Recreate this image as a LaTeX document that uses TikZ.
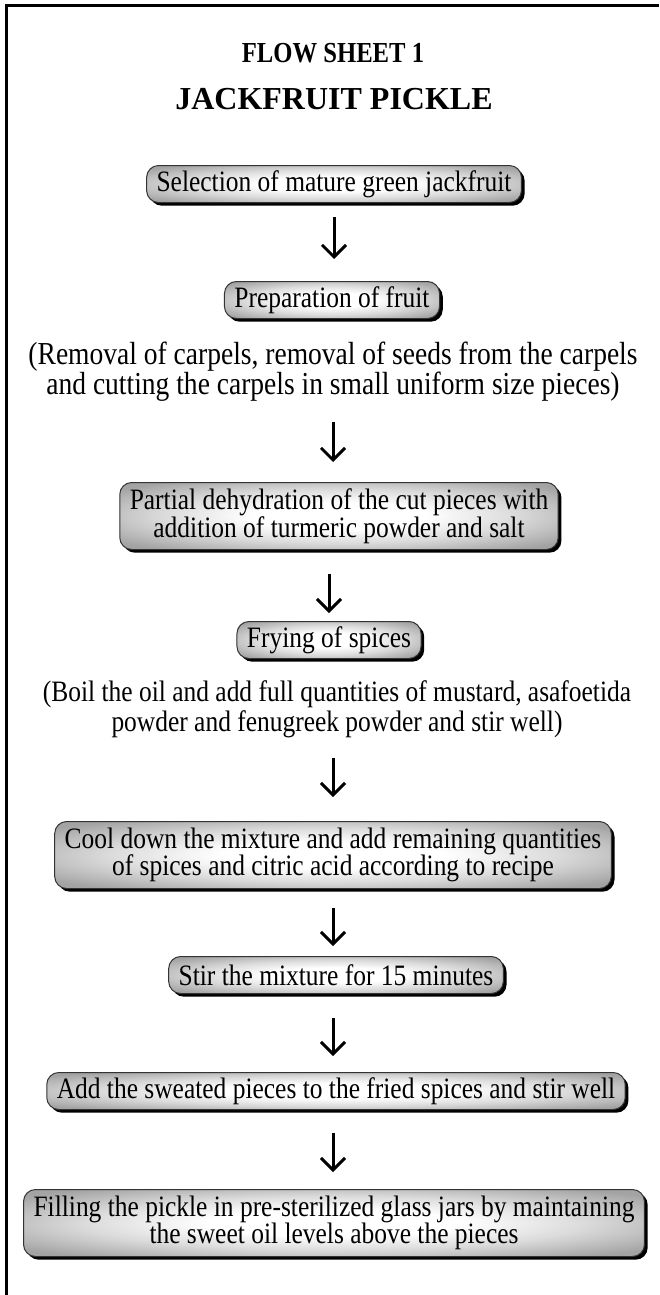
\documentclass[tikz,border=0pt]{standalone}
\usepackage{fontspec}
\setmainfont{Liberation Serif}
\newfontfamily\stepfont[FakeStretch=0.86]{Liberation Serif}
\newfontfamily\headfont[FakeStretch=0.85]{Liberation Serif}
\usetikzlibrary{arrows.meta,shadows}
\pgfdeclareradialshading{stepshade}{\pgfpoint{0bp}{0bp}}{%
  color(0bp)=(white); color(10bp)=(white); color(20bp)=(black!14);
  color(32bp)=(black!36); color(50bp)=(black!38)}

\begin{document}
\begin{tikzpicture}[
  x=0.5pt,y=-0.5pt,
  stepbox/.style={draw=black!80,line width=0.5pt,rounded corners=6pt,
                  shading=stepshade,
                  drop shadow={shadow xshift=1.6pt,shadow yshift=-1.6pt,
                               fill=black,opacity=1},
                  minimum height=18.5pt,inner xsep=5pt,inner ysep=2pt,
                  align=center,font=\stepfont\fontsize{14.8pt}{13.8pt}\selectfont},
  twoline/.style={minimum height=33.5pt},
  note/.style={align=center,inner sep=0pt,
               font=\stepfont\fontsize{14.8pt}{15pt}\selectfont},
  arr/.style={-{Straight Barb[length=6pt,width=12pt]},line width=1.5pt}
]
\useasboundingbox (0,0) rectangle (659,1295);

% frame (left and top only)
\draw[line width=1.5pt] (6,1295) -- (6,6) -- (659,6);

% headings
\node[font=\headfont\bfseries\fontsize{14.5pt}{14.5pt}\selectfont] (sheet) at (333,53)
  {FLOW SHEET 1};
\node[font=\bfseries\fontsize{16pt}{16pt}\selectfont] (title) at (334,99)
  {JACKFRUIT PICKLE};

% steps
\node[stepbox] (select) at (334,184) {Selection of mature green jackfruit};
\node[stepbox] (prep)   at (332,300) {Preparation of fruit};
\node[note,font=\stepfont\fontsize{16pt}{15pt}\selectfont] (prepnote) at (333,372)
  {(Removal of carpels, removal of seeds from the carpels\\
   and cutting the carpels in small uniform size pieces)};
\node[stepbox,twoline] (dehyd) at (339,516)
  {Partial dehydration of the cut pieces with\\
   addition of turmeric powder and salt};
\node[stepbox] (fry) at (329,640) {Frying of spices};
\node[note] (frynote) at (337,709)
  {(Boil the oil and add full quantities of mustard, asafoetida\\
   powder and fenugreek powder and stir well)};
\node[stepbox,twoline] (cool) at (333,855)
  {Cool down the mixture and add remaining quantities\\
   of spices and citric acid according to recipe};
\node[stepbox] (stir) at (336,975) {Stir the mixture for 15 minutes};
\node[stepbox] (add)  at (336,1091)
  {Add the sweated pieces to the fried spices and stir well};
\node[stepbox,twoline] (fill) at (334,1223)
  {Filling the pickle in pre-sterilized glass jars by maintaining\\
   the sweet oil levels above the pieces};

% arrows
\draw[arr,shorten <=7pt,shorten >=11pt]  (select.south)   -- (select.south |- prep.north);
\draw[arr,shorten <=10pt,shorten >=10pt] (prepnote.south) -- (prepnote.south |- dehyd.north);
\draw[arr,shorten <=12pt,shorten >=4pt]  (dehyd.south -| fry.north) -- (fry.north);
\draw[arr,shorten <=10pt,shorten >=12pt] (frynote.south -| cool.north) -- (cool.north);
\draw[arr,shorten <=9.5pt,shorten >=5pt] (cool.south)     -- (cool.south |- stir.north);
\draw[arr,shorten <=12pt,shorten >=8pt]  (stir.south -| cool.south) -- (cool.south |- add.north);
\draw[arr,shorten <=11.5pt,shorten >=8.5pt] (add.south -| cool.south) -- (cool.south |- fill.north);
\end{tikzpicture}
\end{document}
